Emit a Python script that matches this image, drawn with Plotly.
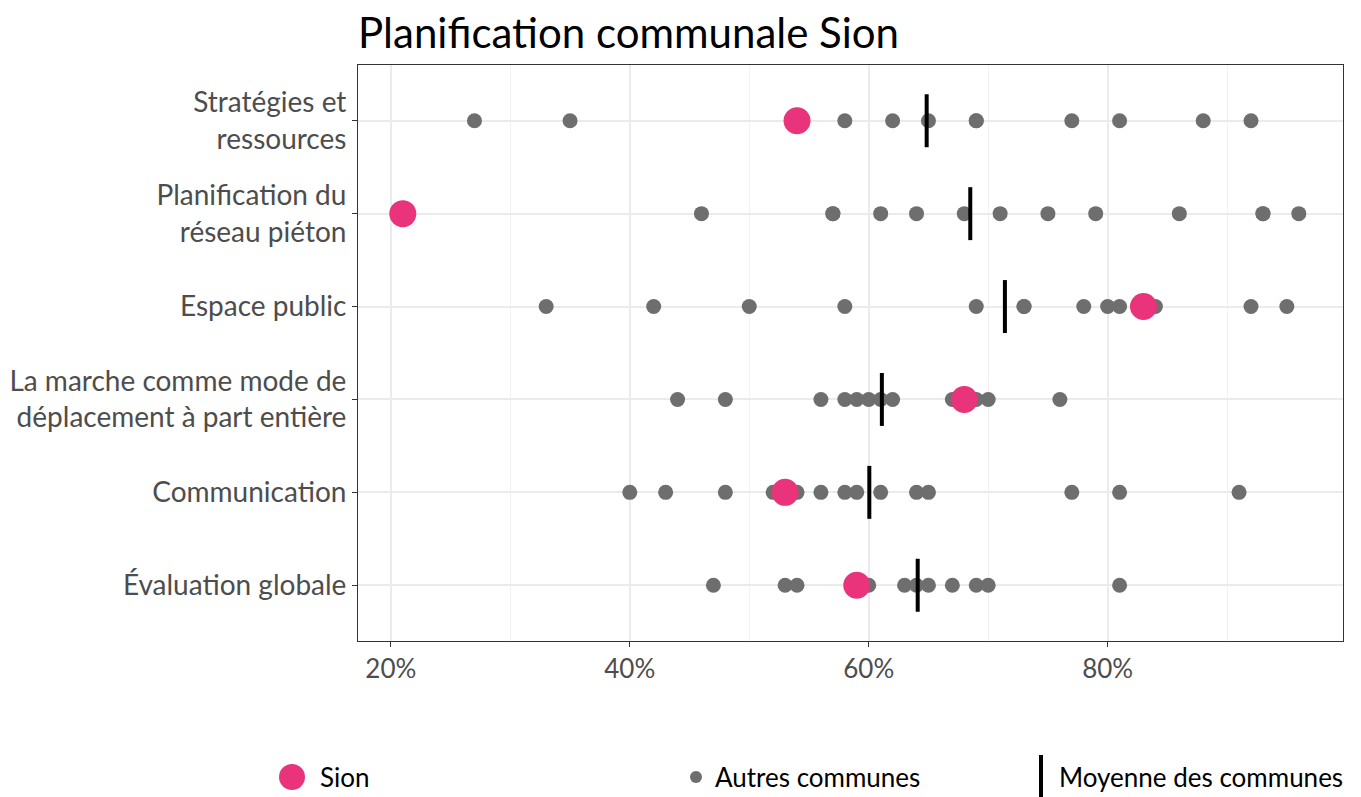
import plotly.graph_objects as go

categories = ["Stratégies et<br>ressources", "Planification du<br>réseau piéton", "Espace public",
              "La marche comme mode de<br>déplacement à part entière", "Communication", "Évaluation globale"]
sion = [54, 21, 83, 68, 53, 59]
autres = [
    [27, 35, 58, 62, 65, 69, 69, 77, 81, 88, 92],
    [46, 57, 57, 61, 64, 68, 71, 75, 79, 86, 93, 93, 96],
    [33, 42, 50, 58, 69, 73, 73, 78, 80, 81, 84, 92, 95],
    [44, 48, 56, 58, 59, 60, 61, 62, 67, 69, 70, 76],
    [40, 43, 48, 52, 54, 56, 58, 59, 61, 64, 65, 77, 81, 91],
    [47, 53, 54, 60, 63, 64, 65, 67, 69, 70, 81],
]
moyennes = [64.85, 68.5, 71.4, 61.1, 60.05, 64.1]
x_ticks = [20, 40, 60, 80]
x_tick_labels = ["20%", "40%", "60%", "80%"]

PINK = "#E9337A"
GREY = "#6E6E6E"
FONT = "Lato"
TXT = "#4D4D4D"

fig = go.Figure()

ox, oy = [], []
for i, vals in enumerate(autres):
    ox += vals
    oy += [i] * len(vals)
fig.add_trace(go.Scatter(x=ox, y=oy, mode="markers", marker=dict(color=GREY, size=15),
                         showlegend=False, hoverinfo="x"))

mx, my = [], []
for i, m in enumerate(moyennes):
    mx += [m, m, None]
    my += [i - 0.285, i + 0.285, None]
fig.add_trace(go.Scatter(x=mx, y=my, mode="lines", line=dict(color="black", width=4),
                         showlegend=False, hoverinfo="skip"))

fig.add_trace(go.Scatter(x=sion, y=list(range(len(sion))), mode="markers",
                         marker=dict(color=PINK, size=27), showlegend=False, hoverinfo="x"))

OFF = 8  # page body margin
W, H = 1361, 797
L, T = 358 - OFF, 65 - OFF
R = W - (1343 - OFF)
B = H - (641 - OFF)

fig.update_layout(
    width=W, height=H,
    margin=dict(l=L, r=R, t=T, b=B, autoexpand=False),
    paper_bgcolor="white", plot_bgcolor="white",
    font=dict(family=FONT, color=TXT),
    title=dict(text="Planification communale Sion", x=L / W, xanchor="left", xref="container",
               y=1 - (33 - OFF) / H, yanchor="middle", font=dict(size=42, color="black", family=FONT)),
    showlegend=False,
)
fig.update_xaxes(range=[17.25, 99.7], tickvals=x_ticks, ticktext=x_tick_labels, automargin=False,
                 tickfont=dict(size=26, color=TXT), showgrid=True, gridcolor="#EBEBEB", gridwidth=1.5,
                 minor=dict(dtick=10, tick0=0, showgrid=True, gridcolor="#F2F2F2", gridwidth=1),
                 ticks="outside", ticklen=5, tickcolor="#333333", showline=True, linecolor="#333333",
                 linewidth=1, mirror=True, zeroline=False)
fig.update_yaxes(range=[5.6, -0.6], tickvals=list(range(len(categories))), ticktext=categories,
                 automargin=False,
                 tickfont=dict(size=28, color=TXT), showgrid=True, gridcolor="#EBEBEB", gridwidth=1.5,
                 ticks="outside", ticklen=5, tickcolor="#333333", showline=True, linecolor="#333333",
                 linewidth=1, mirror=True, zeroline=False)

PW = W - L - R
PH = H - T - B


def fx(px):
    return (px - OFF - L) / PW


def fy(py):
    return (H - B - (py - OFF)) / PH


fig.add_shape(type="circle", xref="paper", yref="paper", xsizemode="pixel", ysizemode="pixel",
              xanchor=fx(292), yanchor=fy(777), x0=-13, x1=13, y0=-13, y1=13,
              fillcolor=PINK, line=dict(width=0))
fig.add_shape(type="circle", xref="paper", yref="paper", xsizemode="pixel", ysizemode="pixel",
              xanchor=fx(696), yanchor=fy(777), x0=-6, x1=6, y0=-6, y1=6,
              fillcolor=GREY, line=dict(width=0))
fig.add_shape(type="line", xref="paper", yref="paper", x0=fx(1041), x1=fx(1041),
              y0=fy(755), y1=fy(797), line=dict(color="black", width=4))

for text, px in [("Sion", 318), ("Autres communes", 713), ("Moyenne des communes", 1057)]:
    fig.add_annotation(text=text, xref="paper", yref="paper", x=fx(px), y=fy(777),
                       xanchor="left", yanchor="middle", showarrow=False,
                       font=dict(size=26, color="black", family=FONT))

fig.write_html("out.html")
